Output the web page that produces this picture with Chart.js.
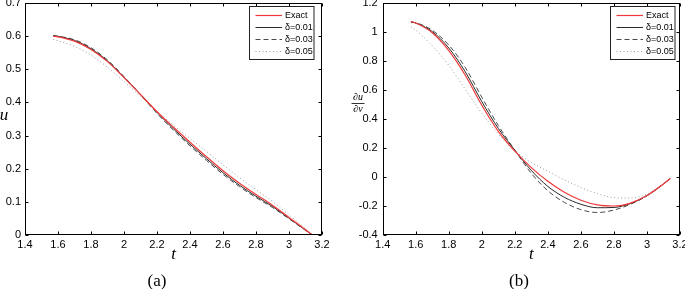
<!DOCTYPE html>
<html><head><meta charset="utf-8">
<script src="https://cdn.jsdelivr.net/npm/chart.js@4.4.0/dist/chart.umd.min.js"></script>
<style>
html,body{margin:0;padding:0;background:#fff;}
#wrap{position:relative;width:685px;height:289px;overflow:hidden;background:#fff;}
canvas{position:absolute;top:0;}
.cap{position:absolute;font-family:"Liberation Serif","DejaVu Serif",serif;font-size:17px;color:#000;transform:translate(-50%,-50%);white-space:nowrap;line-height:1;}
</style></head><body>
<div id="wrap">
<canvas id="ca" width="342" height="289" style="left:0"></canvas>
<canvas id="cb" width="343" height="289" style="left:342px"></canvas>
<div class="cap" style="left:157px;top:280px">(a)</div>
<div class="cap" style="left:519px;top:280px">(b)</div>
</div>
<script>
// ---- data ----
const tValues = [1.5708, 1.6, 1.7, 1.8, 1.9, 2.0, 2.1, 2.2, 2.3, 2.4, 2.5, 2.6, 2.7, 2.8, 2.9, 3.0, 3.1, 3.1416];
const seriesLabels = ['Exact', 'δ=0.01', 'δ=0.03', 'δ=0.05'];

// panel (a): u
const uExact = [0.600, 0.598, 0.585, 0.560, 0.523, 0.475, 0.424, 0.372, 0.325, 0.280, 0.236, 0.194, 0.156, 0.122, 0.090, 0.053, 0.016, 0];
const uD01   = [0.601, 0.599, 0.587, 0.562, 0.525, 0.476, 0.424, 0.370, 0.320, 0.274, 0.230, 0.188, 0.150, 0.117, 0.086, 0.051, 0.015, 0];
const uD03   = [0.602, 0.600, 0.589, 0.565, 0.528, 0.478, 0.423, 0.367, 0.316, 0.269, 0.225, 0.183, 0.146, 0.113, 0.083, 0.049, 0.014, 0];
const uD05   = [0.590, 0.586, 0.569, 0.543, 0.506, 0.463, 0.419, 0.373, 0.331, 0.291, 0.252, 0.212, 0.173, 0.137, 0.101, 0.061, 0.019, 0];

// panel (b): du/dnu
const dExact = [1.072, 1.062, 0.995, 0.872, 0.702, 0.495, 0.315, 0.178, 0.065, -0.030, -0.105, -0.160, -0.192, -0.200, -0.180, -0.128, -0.048, -0.010];
const dD01   = [1.070, 1.062, 1.003, 0.890, 0.725, 0.520, 0.335, 0.185, 0.045, -0.065, -0.140, -0.188, -0.212, -0.210, -0.183, -0.128, -0.048, -0.010];
const dD03   = [1.068, 1.064, 1.012, 0.910, 0.755, 0.550, 0.355, 0.185, 0.025, -0.095, -0.175, -0.225, -0.245, -0.228, -0.188, -0.130, -0.048, -0.010];
const dD05   = [1.035, 1.012, 0.905, 0.770, 0.605, 0.440, 0.295, 0.180, 0.100, 0.040, -0.020, -0.072, -0.115, -0.142, -0.145, -0.118, -0.045, -0.010];

// ticks
const xTickValues = [1.4, 1.6, 1.8, 2.0, 2.2, 2.4, 2.6, 2.8, 3.0, 3.2];
const xTickLabels = ['1.4', '1.6', '1.8', '2', '2.2', '2.4', '2.6', '2.8', '3', '3.2'];
const yTickValuesA = [0, 0.1, 0.2, 0.3, 0.4, 0.5, 0.6, 0.7];
const yTickLabelsA = ['0', '0.1', '0.2', '0.3', '0.4', '0.5', '0.6', '0.7'];
const yTickValuesB = [-0.4, -0.2, 0, 0.2, 0.4, 0.6, 0.8, 1.0, 1.2];
const yTickLabelsB = ['-0.4', '-0.2', '0', '0.2', '0.4', '0.6', '0.8', '1', '1.2'];

// ---- styles ----
const SANS = '"Liberation Sans", Arial, Helvetica, sans-serif';
const SERIF = '"Liberation Serif", "Times New Roman", serif';
const lineStyles = [
  { color: '#f03a3a', width: 1.2, dash: [] },
  { color: '#2a2a2a', width: 1, dash: [] },
  { color: '#4a4a4a', width: 1, dash: [5, 3] },
  { color: '#9a9a9a', width: 1, dash: [1, 2.5] }
];

const framePlugin = {
  id: 'frame',
  afterDatasetsDraw(chart) {
    const { ctx, chartArea: a, scales } = chart;
    ctx.save();
    ctx.strokeStyle = '#000';
    ctx.lineWidth = 1;
    ctx.setLineDash([]);
    const L = Math.round(a.left) + 0.5, R = Math.round(a.right) - 0.5;
    const T = Math.round(a.top) + 0.5, B = Math.round(a.bottom) - 0.5;
    ctx.strokeRect(L, T, R - L, B - T);
    const tl = 3;
    ctx.beginPath();
    scales.x.ticks.forEach(tk => {
      const px = Math.round(scales.x.getPixelForValue(tk.value)) + 0.5;
      ctx.moveTo(px, B); ctx.lineTo(px, B - tl);
      ctx.moveTo(px, T); ctx.lineTo(px, T + tl);
    });
    scales.y.ticks.forEach(tk => {
      const py = Math.round(scales.y.getPixelForValue(tk.value)) + 0.5;
      ctx.moveTo(L, py); ctx.lineTo(L + tl, py);
      ctx.moveTo(R, py); ctx.lineTo(R - tl, py);
    });
    ctx.stroke();
    ctx.restore();
  },
  afterDraw(chart) {
    const o = chart.options.plugins.frame;
    const { ctx, chartArea: a } = chart;
    ctx.save();
    // y label, horizontal
    ctx.fillStyle = '#000';
    ctx.textAlign = 'center';
    ctx.textBaseline = 'middle';
    if (o.yLabel.fraction) {
      const cx = a.left + o.yLabel.dx, cy = o.yLabel.y;
      ctx.font = 'italic 10px ' + SERIF;
      ctx.fillText(o.yLabel.fraction[0], cx, cy - 5.5);
      ctx.fillText(o.yLabel.fraction[1], cx, cy + 6);
      ctx.strokeStyle = '#000'; ctx.lineWidth = 0.8;
      ctx.beginPath(); ctx.moveTo(cx - 6.5, cy + 0.5); ctx.lineTo(cx + 6.5, cy + 0.5); ctx.stroke();
    } else {
      ctx.font = 'italic 17px ' + SERIF;
      ctx.fillText(o.yLabel.text, a.left + o.yLabel.dx, o.yLabel.y);
    }
    // legend
    const w = 64.5, h = 53;
    const bx = Math.round(a.right - o.legendGap - w) + 0.5, by = Math.round(a.top + 3) + 0.5;
    ctx.fillStyle = '#fff';
    ctx.fillRect(bx, by, w, h);
    ctx.strokeStyle = '#222'; ctx.lineWidth = 1; ctx.setLineDash([]);
    ctx.strokeRect(bx, by, w, h);
    ctx.font = '9px ' + SANS;
    ctx.textAlign = 'left';
    chart.data.datasets.forEach((ds, i) => {
      const yy = by + 8.5 + 12.1 * i;
      ctx.save();
      ctx.strokeStyle = ds.borderColor;
      ctx.lineWidth = ds.borderWidth;
      ctx.setLineDash(ds.borderDash || []);
      ctx.beginPath(); ctx.moveTo(bx + 6, Math.round(yy) + 0.5); ctx.lineTo(bx + 32.5, Math.round(yy) + 0.5); ctx.stroke();
      ctx.restore();
      ctx.fillStyle = '#000';
      ctx.fillText(ds.label, bx + 35.5, yy + 0.5);
    });
    ctx.restore();
  }
};

function makeChart(id, o) {
  return new Chart(document.getElementById(id), {
    type: 'line',
    data: {
      datasets: o.series.map((vals, i) => ({
        label: seriesLabels[i],
        data: tValues.map((t, k) => ({ x: t, y: vals[k] })),
        borderColor: lineStyles[i].color,
        borderWidth: lineStyles[i].width,
        borderDash: lineStyles[i].dash,
        pointRadius: 0,
        fill: false,
        cubicInterpolationMode: 'monotone'
      }))
    },
    options: {
      responsive: false,
      animation: false,
      devicePixelRatio: 1,
      layout: { padding: o.padding },
      plugins: {
        legend: { display: false },
        tooltip: { enabled: false },
        frame: { yLabel: o.yLabel, legendGap: o.legendGap }
      },
      scales: {
        x: {
          type: 'linear', min: 1.4, max: 3.2,
          afterBuildTicks: s => { s.ticks = xTickValues.map(v => ({ value: v })); },
          ticks: { callback: (v, i) => xTickLabels[i], color: '#000', font: { family: SANS, size: 11 }, padding: 3, maxRotation: 0, autoSkip: false },
          grid: { display: false, drawTicks: false },
          border: { display: false },
          title: { display: true, text: 't', color: '#000', font: { family: SERIF, style: 'italic', size: 17 }, padding: { top: 0, bottom: 1 } },
          afterFit: s => { s.height = 31; s.paddingLeft = 0; s.paddingRight = 0; }
        },
        y: {
          type: 'linear', min: o.yMin, max: o.yMax,
          afterBuildTicks: s => { s.ticks = o.yTicks.map(v => ({ value: v })); },
          ticks: { callback: (v, i) => o.yLabels[i], color: '#000', font: { family: SANS, size: 11 }, padding: o.yPad, autoSkip: false },
          grid: { display: false, drawTicks: false },
          border: { display: false },
          afterFit: s => { s.width = o.yWidth; s.paddingTop = 0; s.paddingBottom = 0; }
        }
      }
    },
    plugins: [framePlugin]
  });
}

makeChart('ca', {
  series: [uExact, uD01, uD03, uD05],
  yMin: 0, yMax: 0.7, yTicks: yTickValuesA, yLabels: yTickLabelsA,
  yWidth: 25, yPad: 4,
  padding: { left: 0, right: 20, top: 3, bottom: 23 },
  yLabel: { text: 'u', dx: -21, y: 116 },
  legendGap: 8.5
});
makeChart('cb', {
  series: [dExact, dD01, dD03, dD05],
  yMin: -0.4, yMax: 1.2, yTicks: yTickValuesB, yLabels: yTickLabelsB,
  yWidth: 40.7, yPad: 5,
  padding: { left: 0, right: 5, top: 3, bottom: 23 },
  yLabel: { fraction: ['∂u', '∂ν'], dx: -24.7, y: 103 },
  legendGap: 5.5
});
</script>
</body></html>
